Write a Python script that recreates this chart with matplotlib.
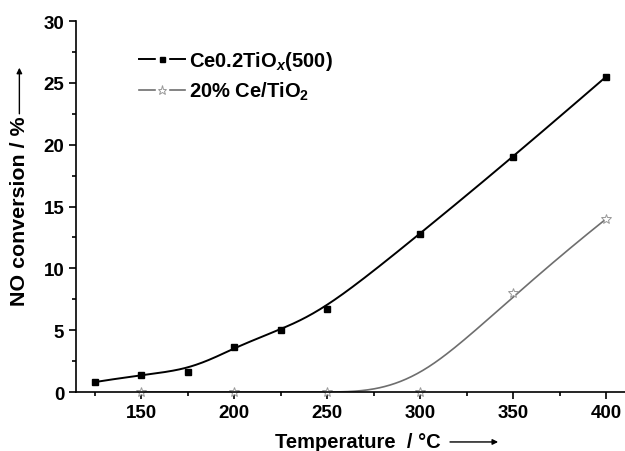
import numpy as np
import matplotlib.pyplot as plt
from matplotlib.ticker import MultipleLocator

plt.rcParams['font.family'] = ['Liberation Sans', 'DejaVu Sans']
plt.rcParams['mathtext.fontset'] = 'custom'
plt.rcParams['mathtext.rm'] = 'Liberation Sans:bold'
plt.rcParams['mathtext.it'] = 'Liberation Sans:italic:bold'
plt.rcParams['mathtext.bf'] = 'Liberation Sans:bold'

# -----------------------------
# data
# -----------------------------
temp_ce = [125, 150, 175, 200, 225, 250, 300, 350, 400]
conv_ce = [0.8, 1.4, 1.65, 3.6, 5.05, 6.75, 12.8, 19.0, 25.5]

temp_imp = [150, 200, 250, 300, 350, 400]
conv_imp = [0.0, 0.0, 0.0, 0.0, 8.0, 14.0]

label_ce = r'Ce0.2TiO$_{x}$(500)'
label_imp = r'20% Ce/TiO$_\mathrm{2}$'


def bspline(xs, ys, k=3, num=300):
    # clamped uniform B-spline with the data as control points (Origin style)
    P = np.column_stack([xs, ys]).astype(float)
    n = len(P)
    m = n - k
    knots = np.concatenate([np.zeros(k), np.arange(m + 1), np.full(k, m)]).astype(float)
    t = np.linspace(0, m, num)
    t[-1] = m - 1e-9
    # Cox-de Boor
    B = np.zeros((num, len(knots) - 1))
    for i in range(len(knots) - 1):
        B[:, i] = (t >= knots[i]) & (t < knots[i + 1])
    for d in range(1, k + 1):
        Bn = np.zeros((num, len(knots) - 1 - d))
        for i in range(len(knots) - 1 - d):
            a = knots[i + d] - knots[i]
            b = knots[i + d + 1] - knots[i + 1]
            term = 0
            if a > 0:
                term = term + (t - knots[i]) / a * B[:, i]
            if b > 0:
                term = term + (knots[i + d + 1] - t) / b * B[:, i + 1]
            Bn[:, i] = term
        B = Bn
    C = B @ P
    return C[:, 0], C[:, 1]


fig = plt.figure(figsize=(6.25, 4.52), dpi=100)
ax = fig.add_axes([0.1216, 0.1305, 0.878, 0.8208])

gray = '#6e6e6e'
sx, sy = bspline(temp_ce, conv_ce)
ax.plot(sx, sy, color='black', lw=1.4)
ax.plot(temp_ce, conv_ce, ls='none', marker='s', ms=4.6, color='black')

gx, gy = bspline(temp_imp, conv_imp)
ax.plot(gx, gy, color=gray, lw=1.2)
ax.plot(temp_imp, conv_imp, ls='none', marker='*', ms=7, mfc='white',
        mec='#999999', mew=0.7, clip_on=False)

# legend handles: line broken around a small symbol, as in the original
l1, = ax.plot([], [], color='black', lw=1.4)
l2, = ax.plot([], [], color=gray, lw=1.2)
gap, = ax.plot([], [], ls='none', marker='s', ms=8, color='white')
m1, = ax.plot([], [], ls='none', marker='s', ms=3.6, color='black')
m2, = ax.plot([], [], ls='none', marker='*', ms=6.5, mfc='white', mec='#999999', mew=0.7)
leg = ax.legend([(l1, gap, m1), (l2, gap, m2)], [label_ce, label_imp], loc='upper left',
                bbox_to_anchor=(0.115, 0.925), frameon=False, handlelength=2.3,
                handletextpad=0.2, borderpad=0, borderaxespad=0,
                prop={'weight': 'bold', 'size': 14.5}, labelspacing=0.4)

ax.set_xlim(115, 410)
ax.set_ylim(0, 30)
ax.xaxis.set_major_locator(MultipleLocator(50))
ax.xaxis.set_minor_locator(MultipleLocator(25))
ax.yaxis.set_major_locator(MultipleLocator(5))
ax.yaxis.set_minor_locator(MultipleLocator(2.5))
ax.tick_params(which='both', direction='out', width=1.2, labelsize=13.5)
ax.tick_params(which='major', length=5)
ax.tick_params(which='minor', length=3)
for lab in ax.get_xticklabels() + ax.get_yticklabels():
    lab.set_fontweight('bold')
ax.spines['top'].set_visible(False)
ax.spines['right'].set_visible(False)
ax.spines['left'].set_linewidth(1.2)
ax.spines['bottom'].set_linewidth(1.2)

fig.text(0.032, 0.533, 'NO conversion / %', rotation=90, ha='center', va='center',
         fontsize=15.4, fontweight='bold')
fig.text(0.573, 0.022, 'Temperature  / \u00b0C', ha='center', va='center',
         fontsize=14.5, fontweight='bold')
ax.annotate('', xy=(0.031, 0.848), xytext=(0.031, 0.746), xycoords='figure fraction',
            arrowprops=dict(arrowstyle='-|>', color='black', lw=1.0, mutation_scale=8,
                            shrinkA=0, shrinkB=0))
ax.annotate('', xy=(0.797, 0.02), xytext=(0.72, 0.02), xycoords='figure fraction',
            arrowprops=dict(arrowstyle='-|>', color='black', lw=1.0, mutation_scale=8,
                            shrinkA=0, shrinkB=0))

fig.savefig('out.png', dpi=100)
